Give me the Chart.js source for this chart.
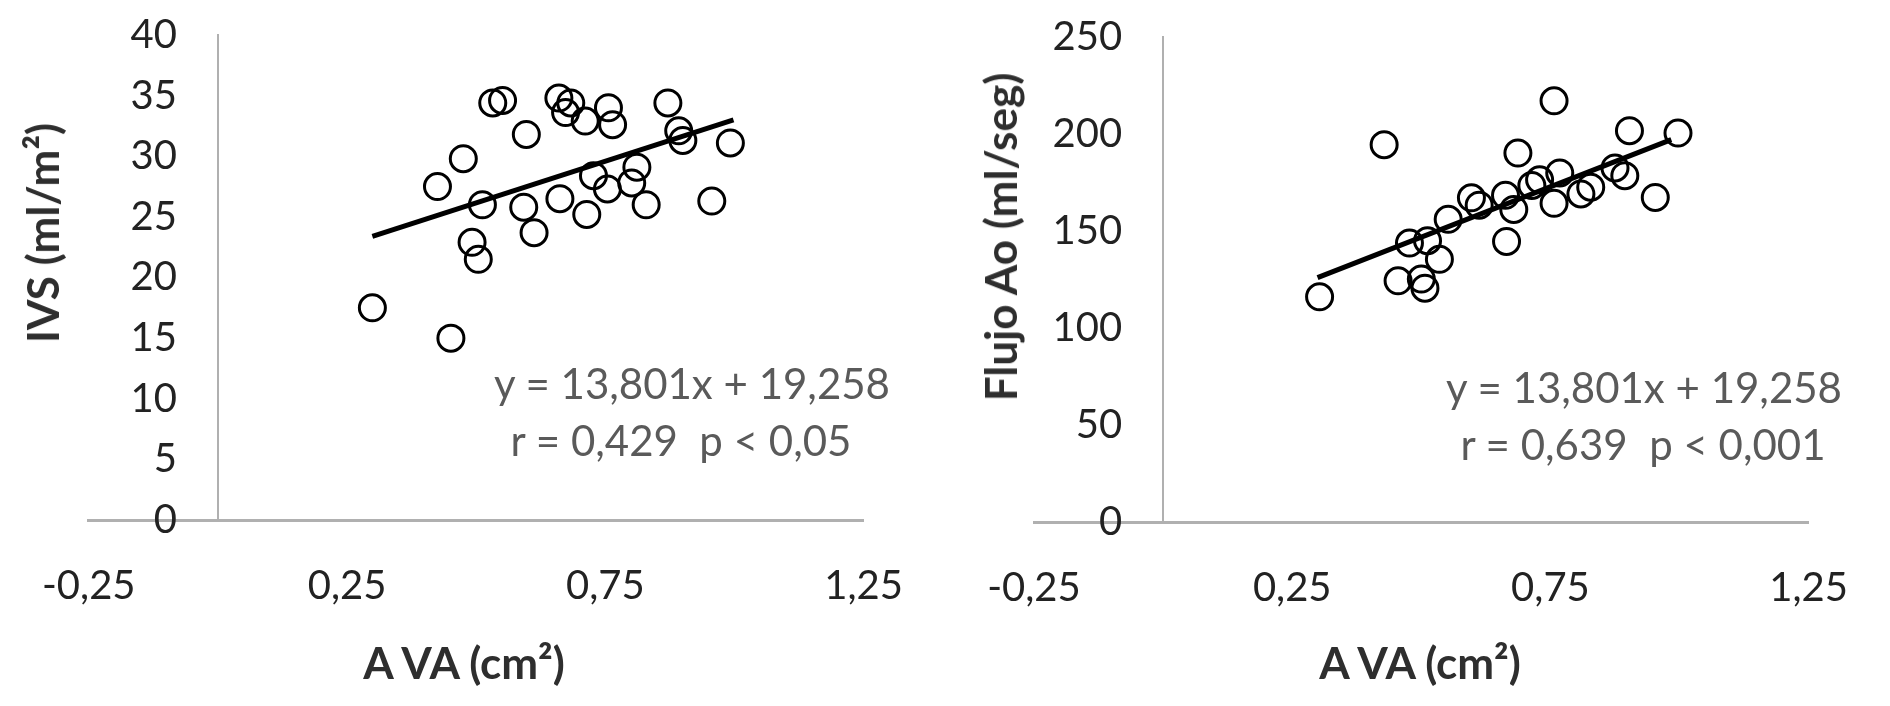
<!DOCTYPE html>
<html>
<head>
<meta charset="utf-8">
<script src="https://cdn.jsdelivr.net/npm/chart.js@4.4.1/dist/chart.umd.min.js"></script>
<style>
  html, body { margin: 0; padding: 0; background: #fff; }
  #wrap { position: relative; width: 1890px; height: 706px; overflow: hidden; font-family: Lato, "Open Sans", sans-serif; }
  .panel { position: absolute; top: 0; width: 945px; height: 706px; }
  .ttl { position: absolute; font-weight: 700; font-size: 44px; color: #2e2e2e; white-space: nowrap; transform: translate(-50%, -50%); }
  .ttl.rot { transform: translate(-50%, -50%) rotate(-90deg); }
  .eq { position: absolute; font-size: 42px; color: #5a5a5a; white-space: pre; transform: translate(-50%, -50%); }
</style>
</head>
<body>
<div id="wrap">
  <div class="panel" style="left:0"><canvas id="ivsChart" width="945" height="706"></canvas></div>
  <div class="panel" style="left:945px"><canvas id="flujoChart" width="945" height="706"></canvas></div>

  <div class="ttl rot" style="left:42px;top:233px">IVS (ml/m²)</div>
  <div class="ttl" style="left:464px;top:662px">A VA (cm²)</div>
  <div class="eq" style="left:692px;top:383px">y = 13,801x + 19,258</div>
  <div class="eq" style="left:681px;top:440px">r = 0,429  p &lt; 0,05</div>

  <div class="ttl rot" style="left:1000px;top:237px">Flujo Ao (ml/seg)</div>
  <div class="ttl" style="left:1420px;top:662px">A VA (cm²)</div>
  <div class="eq" style="left:1644px;top:387px">y = 13,801x + 19,258</div>
  <div class="eq" style="left:1643px;top:444px">r = 0,639  p &lt; 0,001</div>
</div>

<script>
// ===== Data =====
const X_TICKS = [-0.25, 0.25, 0.75, 1.25];
const IVS_TICKS = [0, 5, 10, 15, 20, 25, 30, 35, 40];
const FLUJO_TICKS = [0, 50, 100, 150, 200, 250];

// left panel: IVS vs AVA
const ivsAva = [0.299, 0.451, 0.425, 0.475, 0.512, 0.492, 0.504, 0.532, 0.551, 0.597,
                0.592, 0.612, 0.660, 0.683, 0.673, 0.711, 0.662, 0.714, 0.727, 0.756,
                0.764, 0.754, 0.811, 0.801, 0.829, 0.871, 0.892, 0.900, 0.956, 0.992];
const ivsVal = [17.5, 15.0, 27.5, 29.8, 26.0, 22.9, 21.5, 34.4, 34.6, 31.8,
                25.8, 23.7, 34.8, 34.4, 33.6, 32.9, 26.5, 25.2, 28.4, 34.0,
                32.6, 27.3, 29.1, 27.8, 26.0, 34.4, 32.1, 31.3, 26.3, 31.1];
const ivsFitAva = [0.299, 0.998];
const ivsFitVal = [23.4, 33.0];

// right panel: Flujo Ao vs AVA
const flujoAva = [0.303, 0.428, 0.455, 0.477, 0.500, 0.507, 0.512, 0.535, 0.552, 0.597,
                  0.612, 0.665, 0.663, 0.679, 0.687, 0.714, 0.729, 0.757, 0.757, 0.768,
                  0.809, 0.828, 0.875, 0.894, 0.903, 0.953, 0.997];
const flujoVal = [116.1, 194.5, 124.3, 143.8, 125.2, 120.5, 145.0, 135.4, 156.0, 167.1,
                  163.3, 144.6, 168.4, 161.1, 190.2, 173.5, 176.4, 217.1, 164.3, 179.9,
                  169.1, 172.6, 182.5, 178.5, 201.7, 167.3, 200.5];
const flujoFitAva = [0.299, 0.984];
const flujoFitVal = [126.0, 197.1];

// ===== Helpers =====
const fmt = v => String(v).replace(".", ",");
const Y_GAP = "    ";   // object-positioned y axis ignores ticks.padding, so pad the label text

function pairs(xs, ys) { return xs.map((x, i) => ({ x, y: ys[i] })); }

function makeChart(id, xs, ys, fx, fy, yTicks, pad) {
  const el = document.getElementById(id);
  return new Chart(el, {
    type: "scatter",
    data: {
      datasets: [
        { data: pairs(fx, fy), showLine: true, borderColor: "#000", borderWidth: 5,
          pointRadius: 0, order: 0 },
        { data: pairs(xs, ys), pointStyle: "circle", pointRadius: 13, pointBorderWidth: 3,
          borderColor: "#000", backgroundColor: "rgba(0,0,0,0)", order: 1 }
      ]
    },
    options: {
      responsive: false, animation: false, events: [],
      layout: { padding: pad },
      plugins: { legend: { display: false }, tooltip: { enabled: false } },
      scales: {
        x: {
          type: "linear", min: X_TICKS[0], max: X_TICKS[X_TICKS.length - 1], position: { y: 0 },
          afterBuildTicks: s => { s.ticks = X_TICKS.map(v => ({ value: v })); },
          grid: { display: false, drawTicks: false },
          border: { display: true, color: "#b0b0b0", width: 3 },
          ticks: { padding: 42, color: "#222", font: { family: "Lato", size: 40 },
                   maxRotation: 0, autoSkip: false, callback: v => fmt(v) }
        },
        y: {
          type: "linear", min: yTicks[0], max: yTicks[yTicks.length - 1], position: { x: 0 },
          afterBuildTicks: s => { s.ticks = yTicks.map(v => ({ value: v })); },
          grid: { display: false, drawTicks: false },
          border: { display: true, color: "#b0b0b0", width: 2 },
          ticks: { padding: 0, color: "#222", font: { family: "Lato", size: 40 },
                   autoSkip: false, callback: v => fmt(v) + Y_GAP }
        }
      }
    }
  });
}

makeChart("ivsChart", ivsAva, ivsVal, ivsFitAva, ivsFitVal, IVS_TICKS,
  { left: 80, right: 66, top: 35, bottom: 186 });
makeChart("flujoChart", flujoAva, flujoVal, flujoFitAva, flujoFitVal, FLUJO_TICKS,
  { left: 89, right: 57, top: 37, bottom: 184 });
</script>
</body>
</html>
